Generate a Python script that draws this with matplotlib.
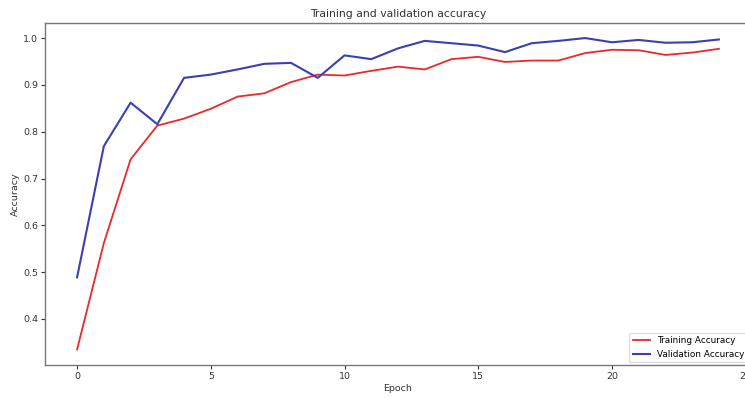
import matplotlib
matplotlib.use("Agg")
import matplotlib.pyplot as plt

epochs = list(range(25))
train_acc = [0.335, 0.562, 0.741, 0.813, 0.828, 0.849, 0.875, 0.882, 0.906, 0.922,
             0.920, 0.930, 0.939, 0.933, 0.955, 0.960, 0.949, 0.952, 0.952, 0.968,
             0.975, 0.974, 0.964, 0.969, 0.977]
val_acc = [0.489, 0.769, 0.862, 0.816, 0.915, 0.922, 0.933, 0.945, 0.947, 0.915,
           0.963, 0.955, 0.978, 0.994, 0.989, 0.984, 0.970, 0.989, 0.994, 1.000,
           0.991, 0.996, 0.990, 0.991, 0.997]

W, H = 745, 398
fig = plt.figure(figsize=(W / 100, H / 100), dpi=100)
left, right, top, bottom = 45, 751, 22.5, 365
ax = fig.add_axes([left / W, (H - bottom) / H, (right - left) / W, (bottom - top) / H])

ax.plot(epochs, train_acc, color="#e82a2a", lw=1.3, label="Training Accuracy")
ax.plot(epochs, val_acc, color="#3a40b0", lw=1.5, label="Validation Accuracy")

ax.set_title("Training and validation accuracy", fontsize=7.8, color="#333333", pad=4)
ax.set_xlabel("Epoch", fontsize=6.8, color="#333333", labelpad=2)
ax.set_ylabel("Accuracy", fontsize=6.8, color="#333333", labelpad=2)
ax.set_xticks([0, 5, 10, 15, 20, 25])
ax.set_yticks([0.4, 0.5, 0.6, 0.7, 0.8, 0.9, 1.0])
ax.tick_params(labelsize=6.8, colors="#333333", length=3, width=0.8, pad=2)
for s in ax.spines.values():
    s.set_color("#777777")
    s.set_linewidth(1.0)
ax.legend(loc="lower right", fontsize=6.4, frameon=True, edgecolor="#dddddd",
          framealpha=1, fancybox=True, handlelength=2, borderaxespad=0.3)

fig.savefig("out.png", dpi=100)
